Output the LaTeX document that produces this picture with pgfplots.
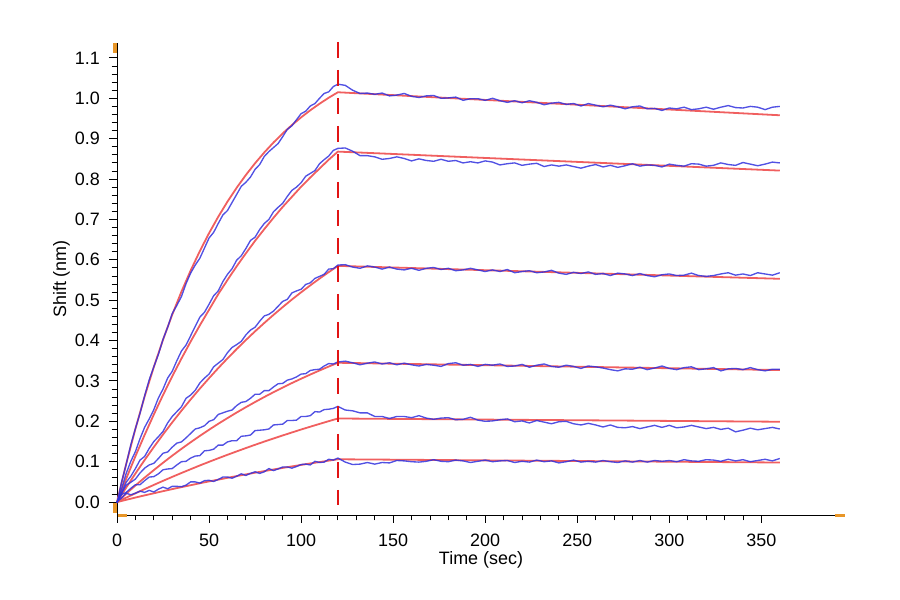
\documentclass[border=0pt]{standalone}
\usepackage{pgfplots}
\pgfplotsset{compat=1.18}
\usepackage{pgfplotstable}
\usepackage{fontspec}
\setmainfont{Liberation Sans}
\definecolor{fitred}{RGB}{240,95,95}
\definecolor{datablue}{RGB}{50,50,222}
\definecolor{markorange}{RGB}{232,150,40}
\definecolor{dashred}{RGB}{225,20,20}

\pgfplotstableread{
t b1 b2 b3 b4 b5 b6
0 -0.003 -0.002 -0.001 0.000 -0.001 0.001
2.5 0.050 0.033 0.023 0.022 0.019 0.010
5 0.094 0.071 0.049 0.042 0.024 0.022
7.5 0.142 0.101 0.064 0.049 0.034 0.018
10 0.182 0.125 0.083 0.057 0.043 0.022
12.5 0.220 0.157 0.104 0.072 0.043 0.027
15 0.263 0.185 0.113 0.084 0.053 0.024
17.5 0.303 0.206 0.133 0.092 0.062 0.029
20 0.335 0.229 0.150 0.096 0.063 0.025
22.5 0.366 0.258 0.162 0.108 0.070 0.032
25 0.403 0.280 0.175 0.121 0.080 0.037
27.5 0.433 0.307 0.196 0.124 0.082 0.033
30 0.467 0.324 0.212 0.136 0.083 0.039
32.5 0.487 0.350 0.224 0.146 0.092 0.039
35 0.509 0.374 0.236 0.149 0.100 0.038
37.5 0.541 0.389 0.257 0.159 0.101 0.042
40 0.567 0.412 0.265 0.170 0.109 0.050
42.5 0.587 0.435 0.277 0.181 0.114 0.050
45 0.604 0.458 0.295 0.184 0.115 0.047
47.5 0.629 0.470 0.307 0.189 0.127 0.053
50 0.654 0.490 0.317 0.200 0.128 0.054
52.5 0.668 0.511 0.335 0.204 0.131 0.051
55 0.690 0.523 0.344 0.217 0.141 0.056
57.5 0.711 0.546 0.353 0.221 0.141 0.062
60 0.722 0.564 0.370 0.225 0.149 0.062
62.5 0.742 0.578 0.383 0.228 0.152 0.059
65 0.762 0.599 0.390 0.239 0.152 0.064
67.5 0.782 0.610 0.398 0.247 0.163 0.070
70 0.792 0.628 0.414 0.249 0.164 0.066
72.5 0.805 0.648 0.426 0.257 0.166 0.071
75 0.824 0.656 0.433 0.267 0.177 0.075
77.5 0.836 0.675 0.448 0.267 0.178 0.071
80 0.856 0.690 0.461 0.276 0.179 0.075
82.5 0.868 0.700 0.465 0.276 0.181 0.083
85 0.878 0.719 0.473 0.285 0.191 0.078
87.5 0.888 0.730 0.485 0.293 0.192 0.082
90 0.905 0.740 0.497 0.294 0.193 0.087
92.5 0.923 0.757 0.502 0.302 0.202 0.087
95 0.932 0.772 0.518 0.305 0.202 0.084
97.5 0.947 0.780 0.523 0.310 0.203 0.088
100 0.962 0.791 0.527 0.317 0.212 0.093
102.5 0.968 0.807 0.539 0.318 0.212 0.094
105 0.981 0.814 0.543 0.326 0.214 0.092
107.5 0.987 0.821 0.554 0.328 0.224 0.101
110 1.000 0.838 0.559 0.329 0.223 0.098
112.5 1.012 0.848 0.564 0.337 0.229 0.099
115 1.016 0.857 0.577 0.343 0.230 0.106
117.5 1.029 0.871 0.578 0.342 0.232 0.104
120 1.035 0.876 0.587 0.347 0.237 0.109
124 1.032 0.877 0.588 0.349 0.228 0.099
128 1.020 0.869 0.582 0.345 0.226 0.093
132 1.012 0.858 0.579 0.340 0.221 0.094
136 1.013 0.858 0.585 0.344 0.221 0.098
140 1.010 0.855 0.582 0.347 0.212 0.094
144 1.013 0.849 0.577 0.342 0.212 0.098
148 1.006 0.851 0.582 0.345 0.207 0.097
152 1.008 0.855 0.577 0.340 0.212 0.103
156 1.012 0.851 0.575 0.344 0.212 0.102
160 1.005 0.845 0.579 0.340 0.209 0.100
164 1.002 0.850 0.574 0.337 0.214 0.099
168 1.006 0.846 0.579 0.341 0.208 0.101
172 1.007 0.844 0.581 0.339 0.205 0.105
176 1.000 0.849 0.576 0.336 0.208 0.101
180 1.001 0.844 0.579 0.343 0.209 0.100
184 1.003 0.846 0.573 0.345 0.204 0.104
188 0.995 0.840 0.575 0.339 0.205 0.102
192 0.999 0.843 0.579 0.341 0.210 0.098
196 0.999 0.840 0.575 0.336 0.203 0.101
200 0.995 0.845 0.571 0.341 0.200 0.104
204 1.000 0.842 0.575 0.339 0.201 0.100
208 0.994 0.835 0.571 0.342 0.204 0.102
212 0.990 0.838 0.576 0.336 0.206 0.103
216 0.994 0.840 0.568 0.337 0.199 0.098
220 0.989 0.834 0.571 0.341 0.201 0.101
224 0.994 0.837 0.573 0.334 0.196 0.099
228 0.990 0.839 0.568 0.339 0.202 0.104
232 0.984 0.831 0.570 0.342 0.198 0.100
236 0.988 0.835 0.574 0.336 0.194 0.102
240 0.990 0.832 0.567 0.334 0.199 0.097
244 0.985 0.835 0.564 0.339 0.200 0.100
248 0.987 0.831 0.569 0.336 0.194 0.104
252 0.981 0.827 0.566 0.331 0.191 0.099
256 0.987 0.832 0.570 0.337 0.195 0.101
260 0.983 0.836 0.564 0.335 0.191 0.099
264 0.979 0.830 0.566 0.332 0.186 0.103
268 0.983 0.834 0.561 0.328 0.191 0.100
272 0.979 0.829 0.567 0.325 0.185 0.098
276 0.974 0.833 0.565 0.330 0.184 0.102
280 0.979 0.838 0.561 0.329 0.187 0.099
284 0.981 0.832 0.566 0.334 0.182 0.103
288 0.974 0.835 0.561 0.328 0.186 0.099
292 0.975 0.834 0.558 0.332 0.190 0.103
296 0.970 0.830 0.563 0.337 0.185 0.101
300 0.976 0.837 0.565 0.331 0.190 0.103
304 0.974 0.834 0.561 0.328 0.184 0.100
308 0.978 0.832 0.562 0.333 0.186 0.105
312 0.972 0.838 0.567 0.335 0.190 0.102
316 0.974 0.837 0.561 0.328 0.186 0.101
320 0.978 0.832 0.559 0.330 0.182 0.105
324 0.973 0.834 0.561 0.333 0.185 0.104
328 0.978 0.840 0.565 0.325 0.180 0.101
332 0.982 0.836 0.568 0.330 0.183 0.106
336 0.977 0.834 0.562 0.331 0.174 0.102
340 0.976 0.841 0.565 0.328 0.178 0.105
344 0.980 0.837 0.561 0.333 0.183 0.100
348 0.978 0.833 0.568 0.328 0.179 0.103
352 0.972 0.837 0.565 0.325 0.182 0.106
356 0.978 0.842 0.562 0.329 0.185 0.102
360 0.980 0.840 0.568 0.329 0.181 0.108
}\bluedata

\pgfplotstableread{
t r1 r2 r3 r4 r5 r6
0 0 0 0 0 0 0
5 0.0945 0.058 0.036 0.0209 0.011 0.0056
10 0.1814 0.1134 0.0707 0.041 0.0217 0.0112
15 0.2613 0.1663 0.1041 0.0605 0.0322 0.0166
20 0.3346 0.2168 0.1363 0.0792 0.0425 0.0218
25 0.4021 0.2652 0.1674 0.0974 0.0526 0.027
30 0.4641 0.3114 0.1974 0.1149 0.0624 0.0321
35 0.5211 0.3554 0.2263 0.1318 0.072 0.037
40 0.5735 0.3975 0.2541 0.1481 0.0814 0.0418
45 0.6217 0.4377 0.281 0.1639 0.0907 0.0466
50 0.666 0.4763 0.3068 0.1792 0.0997 0.0512
55 0.7067 0.515 0.3318 0.1939 0.1085 0.0556
60 0.7441 0.55 0.3558 0.208 0.1171 0.0601
65 0.7785 0.584 0.379 0.2218 0.1255 0.0644
70 0.8101 0.616 0.4013 0.235 0.1338 0.0686
75 0.8392 0.647 0.4229 0.2478 0.1419 0.0728
80 0.8659 0.676 0.4436 0.2602 0.1498 0.0767
85 0.8905 0.704 0.4636 0.2721 0.1575 0.0807
90 0.9131 0.731 0.4829 0.2836 0.165 0.0846
95 0.9338 0.756 0.5016 0.2948 0.1724 0.0883
100 0.9528 0.781 0.5195 0.3055 0.1797 0.092
105 0.9704 0.804 0.5368 0.3159 0.1867 0.0957
110 0.9865 0.826 0.5535 0.3259 0.1936 0.0991
115 1.0014 0.848 0.5695 0.3357 0.2004 0.1026
120 1.015 0.868 0.585 0.345 0.207 0.106
160 1.0055 0.8602 0.5797 0.342 0.2057 0.1047
200 0.996 0.8523 0.5743 0.339 0.2043 0.1033
240 0.9865 0.8445 0.569 0.336 0.203 0.102
280 0.977 0.8367 0.5637 0.333 0.2017 0.1007
320 0.9675 0.8288 0.5583 0.33 0.2003 0.0993
360 0.958 0.821 0.553 0.327 0.199 0.098
}\reddata

\begin{document}
\begin{tikzpicture}
\path[use as bounding box] (0,0) rectangle (900bp,600bp);
\begin{axis}[
  at={(117bp,85bp)}, anchor=south west,
  scale only axis, width=718bp, height=472bp,
  xmin=0, xmax=390, ymin=-0.032, ymax=1.137,
  axis x line*=bottom, axis y line*=left,
  axis line style={-, line width=0.9bp, black},
  xtick={0,50,100,150,200,250,300,350},
  ytick={0,0.1,0.2,0.3,0.4,0.5,0.6,0.7,0.8,0.9,1.0,1.1},
  minor x tick num=4, minor y tick num=4,
  tick align=outside, major tick length=8bp, minor tick length=5.5bp,
  every tick/.style={black, line width=0.9bp},
  ticklabel style={font=\fontsize{18}{18}\selectfont, inner sep=2bp},
  /pgf/number format/assume math mode=true,
  xticklabel style={yshift=-9bp},
  yticklabel style={xshift=-7bp, /pgf/number format/fixed, /pgf/number format/fixed zerofill, /pgf/number format/precision=1},
  clip=false,
]
\addplot[fitred, line width=1.8bp] table[x=t, y=r1] {\reddata};
\addplot[fitred, line width=1.8bp] table[x=t, y=r2] {\reddata};
\addplot[fitred, line width=1.8bp] table[x=t, y=r3] {\reddata};
\addplot[fitred, line width=1.8bp] table[x=t, y=r4] {\reddata};
\addplot[fitred, line width=1.8bp] table[x=t, y=r5] {\reddata};
\addplot[fitred, line width=1.8bp] table[x=t, y=r6] {\reddata};
\addplot[datablue, opacity=0.85, line width=1.35bp] table[x=t, y=b1] {\bluedata};
\addplot[datablue, opacity=0.85, line width=1.35bp] table[x=t, y=b2] {\bluedata};
\addplot[datablue, opacity=0.85, line width=1.35bp] table[x=t, y=b3] {\bluedata};
\addplot[datablue, opacity=0.85, line width=1.35bp] table[x=t, y=b4] {\bluedata};
\addplot[datablue, opacity=0.85, line width=1.35bp] table[x=t, y=b5] {\bluedata};
\addplot[datablue, opacity=0.85, line width=1.35bp] table[x=t, y=b6] {\bluedata};
\addplot[dashred, line width=2.6bp, dash pattern=on 16bp off 12bp] coordinates {(120,1.140) (120,-0.008)};
\end{axis}
\fill[markorange] (113bp,547bp) rectangle (116.5bp,557bp);
\fill[markorange] (113bp,87bp) rectangle (116.5bp,97bp);
\fill[markorange] (117.5bp,83bp) rectangle (127bp,86bp);
\fill[markorange] (835bp,83bp) rectangle (845bp,86bp);
\node[anchor=base, inner sep=1bp, font=\fontsize{18}{18}\selectfont] at (481bp,36bp) {Time (sec)};
\node[rotate=90, anchor=base, font=\fontsize{18}{18}\selectfont] at (66bp,321bp) {Shift (nm)};
\end{tikzpicture}
\end{document}
